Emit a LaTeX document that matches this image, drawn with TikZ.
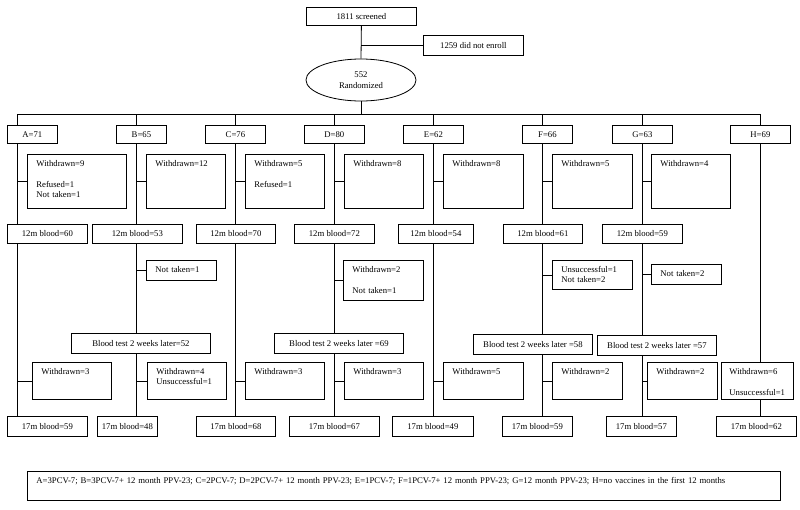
\documentclass[tikz,border=0pt]{standalone}
\usepackage{fontspec}
\setmainfont{Liberation Serif}
\usetikzlibrary{shapes.geometric,backgrounds}

\begin{document}
\begin{tikzpicture}[
  x=1pt, y=-1pt,
  font=\fontsize{8.7}{10.5}\selectfont,
  line width=0.8pt,
  cell/.style ={rectangle, draw=black, fill=white, anchor=north west,
                inner sep=0pt, minimum height=19pt, minimum width=#1},
  note/.style ={rectangle, draw=black, fill=white, anchor=north west,
                align=left, inner xsep=9pt, inner ysep=4pt,
                text height=8pt, text width=#1},
]
\useasboundingbox (0,0) rectangle (800,509);

% ---------------- screening and randomisation ----------------
\node[cell=110pt, minimum height=18pt] (screen) at (306,7) {1811 screened};
\node[cell=100pt, minimum height=20pt] (noenrol) at (423,35) {1259 did not enroll};
\node[ellipse, draw=black, fill=white, minimum width=110pt, minimum height=42pt,
      inner sep=0pt, align=center] (rand) at (361,80) {552\\Randomized};

\coordinate (tA) at (17,114);
\coordinate (tB) at (136,114);
\coordinate (tC) at (235,114);
\coordinate (tD) at (334,114);
\coordinate (tE) at (433,114);
\coordinate (tF) at (542,114);
\coordinate (tG) at (642,114);
\coordinate (tH) at (760,114);

% ---------------- groups ----------------
\node[cell=50pt, minimum height=18pt] (gA) at (7,125)   {A=71};
\node[cell=50pt, minimum height=18pt] (gB) at (116,125) {B=65};
\node[cell=60pt, minimum height=18pt] (gC) at (205,125) {C=76};
\node[cell=60pt, minimum height=18pt] (gD) at (304,125) {D=80};
\node[cell=60pt, minimum height=18pt] (gE) at (403,125) {E=62};
\node[cell=50pt, minimum height=18pt] (gF) at (522,125) {F=66};
\node[cell=60pt, minimum height=18pt] (gG) at (612,125) {G=63};
\node[cell=60pt, minimum height=18pt] (gH) at (730,125) {H=69};

% ---------------- losses before 12 months ----------------
\node[note=81pt, text depth=38pt] (wA) at (27,154)  {Withdrawn=9\\[10.5pt]Refused=1\\Not taken=1};
\node[note=61pt, text depth=38pt] (wB) at (146,154) {Withdrawn=12};
\node[note=61pt, text depth=38pt] (wC) at (245,154) {Withdrawn=5\\[10.5pt]Refused=1};
\node[note=61pt, text depth=38pt] (wD) at (344,154) {Withdrawn=8};
\node[note=62pt, text depth=38pt] (wE) at (443,154) {Withdrawn=8};
\node[note=62pt, text depth=38pt] (wF) at (552,154) {Withdrawn=5};
\node[note=61pt, text depth=38pt] (wG) at (651,154) {Withdrawn=4};

% ---------------- 12 month bloods ----------------
\node[cell=80pt] (mA) at (7,224)   {12m blood=60};
\node[cell=90pt] (mB) at (92,224)  {12m blood=53};
\node[cell=79pt] (mC) at (196,224) {12m blood=70};
\node[cell=80pt] (mD) at (294,224) {12m blood=72};
\node[cell=75pt] (mE) at (398,224) {12m blood=54};
\node[cell=79pt] (mF) at (503,224) {12m blood=61};
\node[cell=80pt] (mG) at (602,224) {12m blood=59};

\node[note=52pt, text depth=4pt]  (nB) at (146,260) {Not taken=1};
\node[note=62pt, text depth=24pt] (nD) at (343,260) {Withdrawn=2\\[10.5pt]Not taken=1};
\node[note=62pt, text depth=13pt] (nF) at (552,260) {Unsuccessful=1\\Not taken=2};
\node[note=52pt, text depth=4pt]  (nG) at (651,264) {Not taken=2};

% ---------------- post-PPV bloods ----------------
\node[cell=139pt, minimum height=20pt] (bB) at (71,333)  {Blood test 2 weeks later=52};
\node[cell=129pt, minimum height=20pt] (bD) at (274,333) {Blood test 2 weeks later =69};
\node[cell=119pt, minimum height=20pt] (bF) at (473,334) {Blood test 2 weeks later =58};
\node[cell=119pt, minimum height=20pt] (bG) at (597,335) {Blood test 2 weeks later =57};

% ---------------- losses before 17 months ----------------
\node[note=61pt, text depth=21pt] (vA) at (32,362)  {Withdrawn=3};
\node[note=61pt, text depth=21pt] (vB) at (147,362) {Withdrawn=4\\Unsuccessful=1};
\node[note=61pt, text depth=21pt] (vC) at (245,362) {Withdrawn=3};
\node[note=61pt, text depth=21pt] (vD) at (344,362) {Withdrawn=3};
\node[note=62pt, text depth=21pt] (vE) at (443,362) {Withdrawn=5};
\node[note=52pt, text depth=21pt] (vF) at (552,362) {Withdrawn=2};
\node[note=52pt, text depth=21pt] (vG) at (647,362) {Withdrawn=2};
\node[note=56pt, text depth=21pt, inner xsep=8pt] (vH) at (721,362) {Withdrawn=6\\[10.5pt]Unsuccessful=1};

% ---------------- 17 month bloods ----------------
\node[cell=80pt, minimum height=20pt] (eA) at (7,416)   {17m blood=59};
\node[cell=60pt, minimum height=20pt] (eB) at (97,416)  {17m blood=48};
\node[cell=79pt, minimum height=20pt] (eC) at (196,416) {17m blood=68};
\node[cell=90pt, minimum height=20pt] (eD) at (289,416) {17m blood=67};
\node[cell=81pt, minimum height=20pt] (eE) at (392,416) {17m blood=49};
\node[cell=70pt, minimum height=20pt] (eF) at (502,416) {17m blood=59};
\node[cell=70pt, minimum height=20pt] (eG) at (606,416) {17m blood=57};
\node[cell=80pt, minimum height=20pt] (eH) at (716,416) {17m blood=62};

\node[note=735pt, text depth=13pt] (key) at (27,471)
  {A=3PCV-7; B=3PCV-7+ 12 month PPV-23; C=2PCV-7; D=2PCV-7+ 12 month PPV-23; E=1PCV-7; F=1PCV-7+ 12 month PPV-23; G=12 month PPV-23; H=no vaccines in the first 12 months};

% ---------------- connectors ----------------
\draw (screen.south) -- (rand.north);
\coordinate (split) at (screen.south |- noenrol.west);
\draw (split) -- (noenrol.west);
\draw (rand.south) -- (rand.south |- tA);
\draw (tA) -- (tH);

\foreach \w/\c in {wA/A, wB/B, wC/C, wD/D, wE/E, wF/F, wG/G,
                   nB/B, nD/D, nF/F, nG/G,
                   vA/A, vB/B, vC/C, vD/D, vE/E, vF/F, vG/G}
  \draw (\w.west -| t\c) -- (\w.west);

\begin{scope}[on background layer]
  \foreach \c in {A,B,C,D,E,F,G,H}
    \draw (t\c) -- (t\c |- e\c.north);
\end{scope}

\end{tikzpicture}
\end{document}
